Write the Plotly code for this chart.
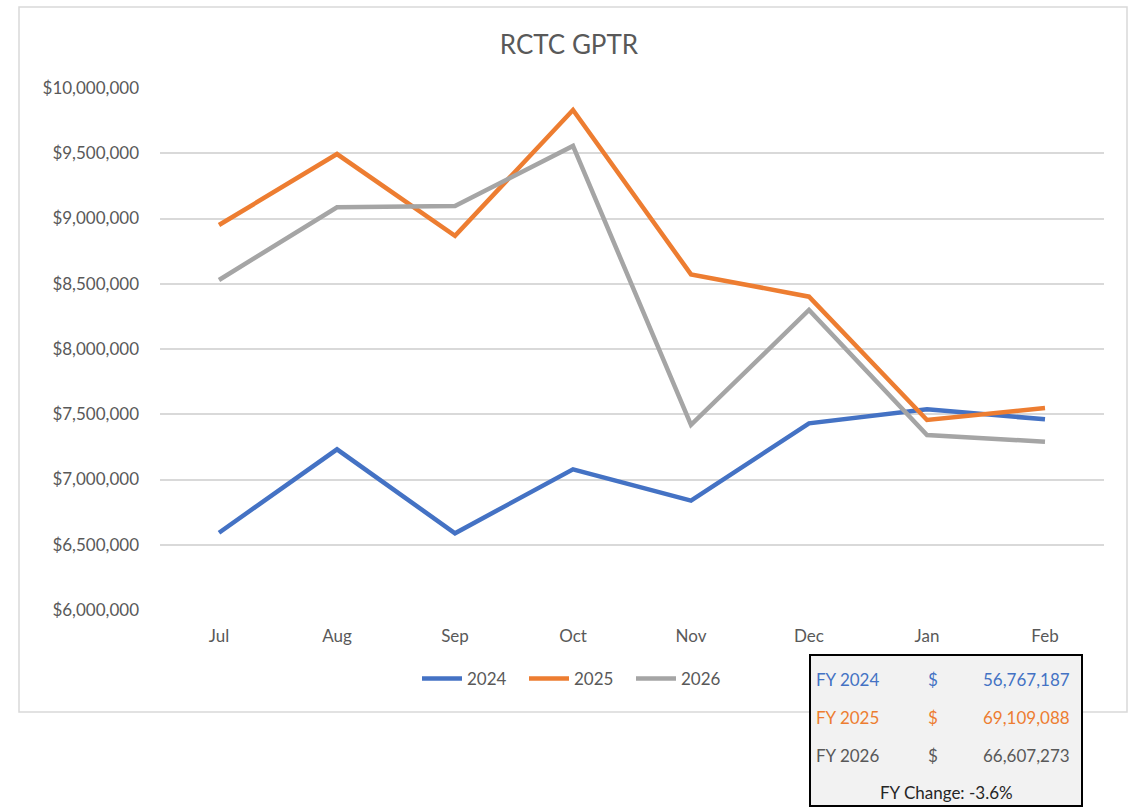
import plotly.graph_objects as go

months = ["Jul", "Aug", "Sep", "Oct", "Nov", "Dec", "Jan", "Feb"]
fy2024 = [6592000, 7231000, 6588000, 7078000, 6838000, 7430000, 7538000, 7461000]
fy2025 = [8950000, 9494000, 8868000, 9831000, 8572000, 8401000, 7456000, 7548000]
fy2026 = [8529000, 9086000, 9096000, 9556000, 7418000, 8299000, 7341000, 7290000]
series_names = ["2024", "2025", "2026"]
series_colors = ["#4472C4", "#ED7D31", "#A5A5A5"]

table_labels = ["FY 2024", "FY 2025", "FY 2026"]
table_totals = ["56,767,187", "69,109,088", "66,607,273"]
table_colors = ["#4472C4", "#ED7D31", "#595959"]
fy_change = "FY Change: -3.6%"

W, H = 1130, 807
L, R, T, B = 160, 1104, 88, 610
FONT = "Lato"

def px(x):
    return (x - L) / (R - L)

def py(y):
    return (B - y) / (B - T)

fig = go.Figure()
for name, vals, col in zip(series_names, [fy2024, fy2025, fy2026], series_colors):
    fig.add_trace(go.Scatter(x=months, y=vals, mode="lines", name=name,
                             line=dict(color=col, width=4.5)))

shapes = [
    dict(type="rect", xref="paper", yref="paper", x0=px(19), x1=px(1127), y0=py(712), y1=py(7),
         line=dict(color="#D9D9D9", width=1.5), fillcolor="rgba(0,0,0,0)", layer="below"),
    dict(type="rect", xref="paper", yref="paper", x0=px(810), x1=px(1082), y0=py(806), y1=py(655),
         line=dict(color="#000000", width=2), fillcolor="#F2F2F2", layer="above"),
]

annotations = []
row_y = [679, 717, 755]
for lab, tot, col, yy in zip(table_labels, table_totals, table_colors, row_y):
    annotations.append(dict(text=lab, x=px(814), y=py(yy), xref="paper", yref="paper",
                            xanchor="left", yanchor="middle", showarrow=False,
                            font=dict(family=FONT, size=17, color=col)))
    annotations.append(dict(text="$", x=px(933), y=py(yy), xref="paper", yref="paper",
                            xanchor="center", yanchor="middle", showarrow=False,
                            font=dict(family=FONT, size=17, color=col)))
    annotations.append(dict(text=tot, x=px(1072), y=py(yy), xref="paper", yref="paper",
                            xanchor="right", yanchor="middle", showarrow=False,
                            font=dict(family=FONT, size=17, color=col)))
annotations.append(dict(text=fy_change, x=px(946), y=py(792), xref="paper", yref="paper",
                        xanchor="center", yanchor="middle", showarrow=False,
                        font=dict(family=FONT, size=17, color="#262626")))

fig.update_layout(
    width=W, height=H,
    margin=dict(l=L, r=W - R, t=T, b=H - B, autoexpand=False),
    paper_bgcolor="white", plot_bgcolor="white",
    title=dict(text="RCTC GPTR", x=569 / W, xanchor="center", y=1 - 45 / H, yanchor="middle",
               font=dict(family=FONT, size=26, color="#595959")),
    font=dict(family=FONT, size=17, color="#595959"),
    xaxis=dict(type="category", range=[-0.5, 7.5], showgrid=False, showline=False,
               zeroline=False, ticks="", ticklabelstandoff=14,
               tickfont=dict(family=FONT, size=17, color="#595959")),
    yaxis=dict(range=[6000000, 10000000], dtick=500000, tickprefix="$", tickformat=",d",
               showgrid=True, gridcolor="#D9D9D9", gridwidth=1.5, zeroline=False,
               showline=False, ticks="", ticklabelstandoff=20,
               tickfont=dict(family=FONT, size=17, color="#595959")),
    legend=dict(orientation="h", x=px(417), xanchor="left", y=py(679), yanchor="middle",
                font=dict(family=FONT, size=17, color="#595959"), entrywidth=52,
                entrywidthmode="pixels", bgcolor="rgba(0,0,0,0)", itemwidth=40,
                tracegroupgap=0),
    shapes=shapes,
    annotations=annotations,
    showlegend=True,
)

fig.write_html("out.html", config={"displayModeBar": False},
               post_script="document.body.style.margin='0';document.body.style.overflow='hidden';")
